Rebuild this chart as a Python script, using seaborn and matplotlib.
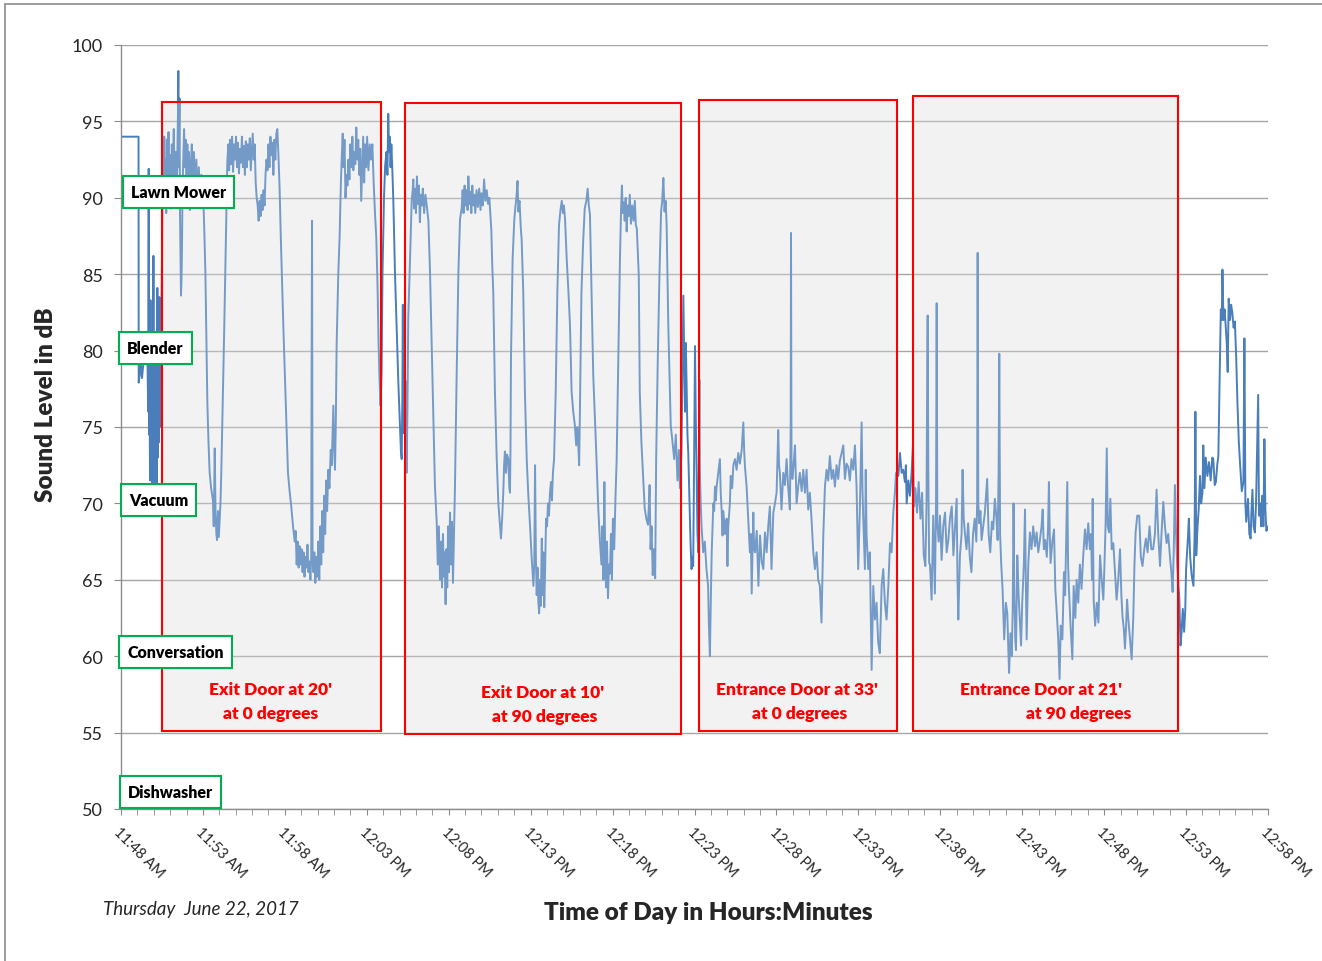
import matplotlib
matplotlib.use("Agg")
import matplotlib.pyplot as plt
from matplotlib.patches import Rectangle
import pandas as pd
import seaborn as sns

# -------------------------------------------------------------
# Data (minutes after 11:48 AM, sound level in dB)
# -------------------------------------------------------------
seg_start = [
    (0.0, 94.0), (1.07, 94.0), (1.08, 77.9), (1.15, 78.5), (1.2, 79.4), (1.28, 78.2),
    (1.4, 79.5), (1.55, 80.0), (1.62, 79.0), (1.66, 76.0), (1.69, 91.9), (1.71, 74.5),
    (1.74, 79.0), (1.77, 71.5), (1.80, 83.3), (1.83, 74.0), (1.86, 80.0), (1.89, 70.0),
    (1.92, 79.0), (1.95, 72.0), (1.98, 86.2), (2.01, 71.0), (2.04, 80.0), (2.07, 69.3),
    (2.10, 78.0), (2.13, 72.5), (2.16, 80.5), (2.19, 71.0), (2.22, 84.1), (2.25, 73.0),
    (2.28, 79.5), (2.31, 74.0), (2.34, 83.5), (2.37, 75.0), (2.40, 80.0), (2.43, 76.0),
    (2.46, 82.0), (2.50, 86.0),
]

seg_exit20 = [
    (2.56, 93.5), (2.60, 89.5), (2.64, 94.0), (2.68, 90.5), (2.72, 92.5), (2.76, 89.0),
    (2.80, 93.8), (2.85, 91.0), (2.90, 94.3), (2.95, 90.0), (3.0, 92.8), (3.05, 89.3),
    (3.10, 93.5), (3.15, 91.5), (3.22, 94.5), (3.28, 90.8), (3.35, 93.0), (3.42, 91.5),
    (3.47, 95.0), (3.50, 98.3), (3.53, 92.0), (3.57, 96.5), (3.60, 89.0), (3.63, 86.0),
    (3.66, 83.6), (3.69, 84.5), (3.72, 86.5), (3.75, 90.0), (3.80, 92.5), (3.85, 94.5),
    (3.90, 92.0), (3.95, 93.8), (4.0, 91.0), (4.05, 93.5), (4.10, 90.5), (4.15, 93.0),
    (4.20, 89.2), (4.26, 92.0), (4.32, 93.5), (4.38, 91.0), (4.45, 93.0), (4.52, 90.5),
    (4.60, 92.5), (4.68, 89.5), (4.75, 92.0), (4.82, 90.0), (4.90, 91.5), (5.0, 90.8),
    (5.08, 88.0), (5.15, 85.1), (5.22, 80.0), (5.27, 76.6), (5.34, 74.0), (5.41, 72.0),
    (5.50, 71.0), (5.61, 70.2), (5.66, 68.5), (5.72, 73.6), (5.77, 69.5), (5.82, 68.0),
    (5.86, 67.6), (5.92, 69.5), (5.97, 67.8), (6.02, 68.9), (6.07, 70.0), (6.12, 72.0),
    (6.18, 75.0), (6.25, 78.8), (6.31, 82.0), (6.37, 85.6), (6.43, 89.0), (6.49, 92.4),
    (6.55, 93.5), (6.60, 91.8), (6.66, 93.8), (6.72, 92.2), (6.78, 94.0), (6.84, 91.7),
    (6.90, 93.5), (6.96, 92.5), (7.02, 94.0), (7.08, 92.0), (7.14, 93.6), (7.20, 91.6),
    (7.26, 93.2), (7.32, 92.3), (7.38, 94.0), (7.44, 92.0), (7.50, 93.4), (7.56, 91.5),
    (7.62, 93.7), (7.68, 92.0), (7.74, 93.5), (7.80, 92.5), (7.86, 93.9), (7.92, 91.8),
    (7.98, 93.0), (8.04, 94.2), (8.10, 92.5), (8.16, 93.5), (8.22, 91.0), (8.28, 90.0),
    (8.34, 89.5), (8.40, 88.5), (8.46, 89.8), (8.52, 88.8), (8.58, 90.2), (8.64, 89.2),
    (8.70, 90.5), (8.76, 89.5), (8.82, 91.5), (8.88, 92.5), (8.94, 91.8), (9.00, 93.5),
    (9.06, 92.0), (9.12, 94.0), (9.18, 92.8), (9.24, 93.6), (9.30, 91.5), (9.36, 93.8),
    (9.42, 92.5), (9.48, 94.2), (9.54, 94.5), (9.60, 93.0), (9.68, 90.6), (9.75, 87.5),
    (9.83, 84.5), (9.91, 81.5), (9.99, 78.8), (10.09, 75.5), (10.19, 72.0), (10.29, 70.8),
    (10.39, 69.8), (10.50, 68.5), (10.6, 67.5), (10.66, 68.2), (10.72, 66.0), (10.78, 67.5),
    (10.84, 65.8), (10.90, 67.2), (10.96, 66.0), (11.02, 67.0), (11.08, 65.5), (11.14, 66.8),
    (11.20, 65.2), (11.26, 66.5), (11.32, 65.8), (11.38, 67.3), (11.44, 65.5), (11.50, 66.2),
    (11.56, 65.0), (11.61, 66.5), (11.63, 78.0), (11.66, 88.5), (11.69, 67.0), (11.74, 65.5),
    (11.80, 66.8), (11.86, 64.8), (11.92, 66.5), (11.98, 65.2), (12.04, 67.5), (12.10, 65.0),
    (12.16, 68.5), (12.22, 66.0), (12.28, 69.5), (12.34, 66.8), (12.40, 70.5), (12.46, 68.0),
    (12.52, 71.5), (12.58, 69.5), (12.65, 72.2), (12.72, 71.0), (12.80, 73.5), (12.86, 72.5),
    (12.92, 74.8), (12.96, 76.4), (13.01, 73.5), (13.06, 72.2), (13.11, 75.3), (13.16, 80.4),
    (13.26, 85.0), (13.34, 87.4), (13.42, 91.0), (13.47, 92.6), (13.53, 94.2), (13.58, 92.0),
    (13.64, 93.8), (13.70, 90.0), (13.76, 91.5), (13.82, 90.8), (13.88, 92.5), (13.94, 91.2),
    (14.00, 93.5), (14.06, 92.0), (14.12, 94.0), (14.18, 91.8), (14.24, 93.0), (14.30, 92.2),
    (14.36, 94.6), (14.42, 92.5), (14.48, 93.8), (14.54, 91.5), (14.60, 93.2), (14.66, 89.8),
    (14.72, 92.0), (14.78, 94.0), (14.84, 91.0), (14.90, 93.5), (14.96, 92.0), (15.02, 94.0),
    (15.10, 91.8), (15.18, 93.5), (15.26, 92.5), (15.34, 93.5), (15.42, 91.0), (15.50, 89.0),
    (15.58, 87.4), (15.66, 84.0), (15.72, 80.4), (15.78, 78.0), (15.84, 76.4),
]

seg_gap1 = [
    (15.90, 78.5), (15.96, 85.1), (16.05, 90.0), (16.12, 92.1), (16.20, 93.0), (16.26, 91.5),
    (16.31, 95.5), (16.36, 93.0), (16.40, 94.0), (16.45, 92.0), (16.50, 93.5), (16.56, 91.8),
    (16.62, 89.8), (16.68, 87.0), (16.72, 85.1), (16.82, 81.6), (16.92, 78.1), (17.03, 75.0),
    (17.08, 73.5), (17.13, 72.9), (17.17, 77.0), (17.20, 83.0), (17.23, 74.6), (17.27, 78.0),
    (17.30, 80.9), (17.34, 74.0), (17.38, 78.0),
]

seg_exit10 = [
    (17.43, 72.0), (17.48, 76.0), (17.53, 82.1), (17.64, 86.0), (17.74, 89.8), (17.80, 90.5),
    (17.84, 91.2), (17.88, 89.3), (17.94, 90.6), (18.00, 89.0), (18.06, 91.4), (18.12, 89.6),
    (18.18, 90.8), (18.24, 88.4), (18.30, 90.2), (18.36, 89.5), (18.42, 90.6), (18.50, 89.0),
    (18.58, 90.2), (18.66, 89.5), (18.76, 88.5), (18.86, 85.1), (18.96, 80.4), (19.06, 75.7),
    (19.16, 71.1), (19.27, 68.7), (19.33, 66.0), (19.40, 68.5), (19.47, 65.0), (19.53, 67.5),
    (19.59, 64.5), (19.65, 68.0), (19.70, 65.2), (19.75, 66.8), (19.81, 63.4), (19.86, 67.0),
    (19.91, 64.5), (19.96, 68.5), (20.02, 65.5), (20.08, 69.4), (20.14, 66.0), (20.20, 68.8),
    (20.26, 64.8), (20.32, 68.0), (20.38, 71.0), (20.48, 78.1), (20.59, 85.1), (20.69, 88.6),
    (20.79, 89.3), (20.85, 90.5), (20.91, 89.0), (20.97, 90.8), (21.03, 89.5), (21.09, 90.5),
    (21.15, 89.2), (21.20, 91.4), (21.26, 89.6), (21.32, 90.4), (21.38, 89.0), (21.44, 90.8),
    (21.50, 89.5), (21.56, 90.2), (21.62, 89.0), (21.70, 90.5), (21.78, 89.4), (21.86, 90.6),
    (21.94, 89.2), (22.00, 90.3), (22.08, 89.5), (22.16, 91.2), (22.24, 89.8), (22.32, 90.5),
    (22.40, 89.6), (22.48, 90.0), (22.52, 89.3), (22.60, 87.9), (22.66, 85.5), (22.72, 83.8),
    (22.82, 77.3), (22.93, 72.9), (23.03, 70.0), (23.13, 68.6), (23.19, 67.7), (23.26, 69.0),
    (23.33, 70.7), (23.38, 72.5), (23.43, 73.4), (23.50, 72.0), (23.56, 73.2), (23.64, 72.9),
    (23.70, 71.0), (23.74, 70.7), (23.77, 73.6), (23.80, 79.5), (23.90, 86.0), (24.00, 88.5),
    (24.06, 89.3), (24.13, 90.0), (24.20, 91.1), (24.25, 89.1), (24.32, 89.8), (24.40, 88.0),
    (24.45, 87.3), (24.55, 83.8), (24.65, 77.3), (24.76, 72.9), (24.86, 70.5), (24.96, 68.6),
    (25.06, 66.5), (25.17, 64.6), (25.22, 66.0), (25.27, 72.5), (25.32, 66.5), (25.37, 64.0),
    (25.42, 65.8), (25.47, 63.5), (25.52, 62.8), (25.57, 65.0), (25.62, 63.3), (25.68, 67.7),
    (25.73, 64.0), (25.78, 66.8), (25.83, 63.2), (25.88, 65.5), (25.94, 69.0), (26.00, 68.5),
    (26.06, 70.0), (26.12, 69.2), (26.18, 70.7), (26.24, 71.4), (26.30, 70.2), (26.36, 72.0),
    (26.43, 72.9), (26.53, 77.3), (26.63, 83.8), (26.73, 88.2), (26.82, 89.2), (26.90, 89.8),
    (26.97, 89.0), (27.03, 89.5), (27.10, 88.6), (27.20, 86.0), (27.30, 84.0), (27.40, 81.7),
    (27.50, 77.3), (27.60, 76.0), (27.70, 75.1), (27.78, 73.8), (27.85, 75.0), (27.90, 74.0),
    (27.96, 72.5), (28.00, 75.5), (28.10, 83.8), (28.20, 87.0), (28.30, 89.3), (28.40, 89.8),
    (28.48, 90.6), (28.55, 89.5), (28.62, 88.9), (28.72, 83.8), (28.82, 78.4), (28.98, 74.0),
    (29.13, 69.6), (29.23, 67.5), (29.32, 66.0), (29.38, 68.5), (29.44, 65.0), (29.50, 71.4),
    (29.55, 66.5), (29.60, 64.5), (29.66, 67.5), (29.72, 63.8), (29.78, 66.0), (29.84, 65.4),
    (29.90, 68.0), (29.96, 65.0), (30.02, 69.0), (30.10, 67.0), (30.18, 70.5), (30.25, 72.9),
    (30.35, 79.5), (30.45, 86.0), (30.52, 89.3), (30.57, 90.8), (30.62, 89.0), (30.68, 89.7),
    (30.74, 88.5), (30.80, 90.0), (30.86, 87.8), (30.92, 89.5), (30.98, 88.8), (31.05, 90.2),
    (31.12, 88.3), (31.20, 89.5), (31.28, 88.5), (31.36, 89.8), (31.42, 88.2), (31.48, 88.0),
    (31.60, 84.9), (31.66, 77.3), (31.76, 74.0), (31.86, 71.8), (31.96, 69.7), (32.06, 69.0),
    (32.16, 68.6), (32.22, 70.0), (32.26, 71.2), (32.32, 67.0), (32.38, 68.5), (32.45, 65.3),
    (32.52, 67.0), (32.60, 65.1), (32.66, 72.9), (32.76, 79.5), (32.86, 84.9), (32.96, 89.1),
    (33.03, 89.8), (33.10, 91.3), (33.17, 89.1), (33.24, 89.8), (33.30, 88.2), (33.40, 81.7),
    (33.55, 75.1), (33.66, 74.0), (33.76, 72.9), (33.86, 74.5), (33.96, 71.5), (34.05, 73.5),
    (34.11, 71.0),
]

seg_gap2 = [
    (34.20, 73.3), (34.26, 78.0), (34.32, 83.6), (34.37, 79.9), (34.42, 76.0), (34.47, 80.5),
    (34.52, 77.7), (34.57, 74.5), (34.62, 73.3), (34.67, 71.0), (34.72, 69.0), (34.77, 67.0),
    (34.82, 65.7), (34.87, 66.5), (34.92, 65.9), (34.97, 72.0), (35.03, 80.3), (35.08, 75.5),
    (35.13, 72.0), (35.18, 68.0), (35.23, 66.8),
]

seg_entr33 = [
    (35.30, 78.1), (35.33, 72.0), (35.38, 70.0), (35.43, 68.5), (35.53, 66.8), (35.63, 67.5),
    (35.73, 65.7), (35.83, 64.6), (35.88, 62.0), (35.94, 60.0), (36.00, 64.0), (36.05, 66.8),
    (36.10, 68.5), (36.15, 70.0), (36.20, 69.5), (36.25, 71.1), (36.30, 70.2), (36.35, 71.1),
    (36.45, 72.0), (36.55, 72.9), (36.60, 70.7), (36.66, 69.5), (36.71, 67.9), (36.76, 69.5),
    (36.86, 68.0), (36.96, 69.0), (37.01, 65.9), (37.06, 68.5), (37.16, 70.0), (37.21, 71.8),
    (37.30, 71.0), (37.37, 72.5), (37.47, 72.9), (37.57, 72.2), (37.67, 73.3), (37.77, 72.6),
    (37.88, 73.5), (37.98, 75.3), (38.03, 73.5), (38.08, 72.4), (38.18, 71.1), (38.28, 69.0),
    (38.38, 66.8), (38.44, 68.0), (38.49, 64.1), (38.59, 69.4), (38.64, 67.0), (38.70, 66.8),
    (38.80, 68.2), (38.90, 64.6), (39.00, 67.9), (39.10, 66.2), (39.20, 65.7), (39.30, 68.1),
    (39.40, 66.8), (39.50, 68.5), (39.60, 69.8), (39.70, 65.7), (39.81, 69.4), (39.91, 70.0),
    (40.01, 70.7), (40.11, 74.8), (40.16, 72.5), (40.21, 72.0), (40.31, 69.6), (40.42, 72.0),
    (40.52, 71.2), (40.62, 72.9), (40.72, 71.0), (40.82, 69.6), (40.87, 75.0), (40.89, 87.7),
    (40.92, 73.0), (40.97, 71.6), (41.05, 72.5), (41.13, 73.8), (41.23, 70.0), (41.33, 71.1),
    (41.43, 72.0), (41.54, 70.8), (41.64, 72.2), (41.74, 70.7), (41.84, 72.2), (41.94, 69.6),
    (42.04, 70.7), (42.14, 69.0), (42.25, 66.8), (42.35, 65.7), (42.45, 66.8), (42.55, 65.0),
    (42.65, 64.6), (42.75, 62.2), (42.86, 67.9), (42.96, 71.1), (43.06, 72.2), (43.16, 71.5),
    (43.26, 73.1), (43.37, 71.6), (43.47, 72.2), (43.57, 71.1), (43.67, 72.5), (43.77, 71.6),
    (43.87, 72.8), (43.98, 73.3), (44.08, 73.8), (44.18, 71.6), (44.28, 72.6), (44.38, 72.4),
    (44.48, 71.5), (44.58, 72.9), (44.69, 72.2), (44.79, 73.8), (44.89, 71.1), (44.99, 65.7),
    (45.10, 70.0), (45.20, 75.3), (45.25, 71.0), (45.30, 69.0), (45.40, 65.7), (45.45, 72.2),
    (45.50, 68.0), (45.60, 65.7), (45.70, 66.8), (45.81, 59.1), (45.91, 64.6), (46.01, 62.4),
    (46.11, 63.5), (46.21, 60.9), (46.31, 60.2), (46.42, 64.6), (46.52, 65.7), (46.62, 63.5),
    (46.72, 62.4), (46.83, 64.6), (46.93, 67.4), (47.03, 66.8), (47.13, 69.4), (47.23, 70.7),
    (47.30, 72.0),
]

seg_gap3 = [
    (47.44, 71.8), (47.54, 73.3), (47.64, 72.0), (47.74, 72.2), (47.84, 71.4), (47.90, 72.5),
    (47.95, 70.0), (48.05, 71.5), (48.15, 70.5), (48.25, 72.0), (48.33, 73.8),
]

seg_entr21 = [
    (48.40, 69.8), (48.48, 71.0), (48.58, 69.4), (48.68, 71.4), (48.79, 69.0), (48.89, 70.7),
    (48.99, 66.6), (49.09, 65.9), (49.16, 70.0), (49.20, 78.1), (49.23, 82.3), (49.27, 72.0),
    (49.32, 66.1), (49.37, 66.0), (49.47, 63.7), (49.57, 69.2), (49.67, 64.1), (49.74, 70.0),
    (49.78, 83.1), (49.82, 68.7), (49.90, 67.5), (49.98, 69.2), (50.08, 66.3), (50.18, 68.5),
    (50.29, 69.4), (50.39, 66.8), (50.49, 67.6), (50.59, 69.0), (50.70, 69.8), (50.80, 66.6),
    (50.90, 68.5), (51.00, 70.3), (51.05, 65.0), (51.10, 62.4), (51.20, 66.6), (51.30, 68.0),
    (51.36, 72.2), (51.43, 69.0), (51.50, 68.1), (51.60, 67.0), (51.70, 68.7), (51.80, 66.5),
    (51.90, 65.5), (52.00, 68.0), (52.10, 69.0), (52.20, 67.5), (52.25, 70.0), (52.28, 86.4),
    (52.32, 70.0), (52.38, 68.7), (52.45, 69.5), (52.52, 67.6), (52.62, 68.5), (52.72, 69.4),
    (52.86, 71.6), (52.95, 68.0), (53.05, 66.8), (53.15, 68.8), (53.23, 68.3), (53.33, 70.3),
    (53.43, 69.0), (53.50, 67.6), (53.56, 72.0), (53.60, 79.8), (53.65, 68.0), (53.72, 66.0),
    (53.80, 64.4), (53.90, 61.1), (54.00, 63.5), (54.09, 62.8), (54.15, 60.5), (54.20, 58.9),
    (54.28, 61.5), (54.36, 60.0), (54.42, 63.0), (54.47, 70.0), (54.52, 64.0), (54.58, 61.0),
    (54.62, 60.4), (54.70, 66.6), (54.78, 64.0), (54.86, 62.2), (54.93, 60.7), (55.00, 63.5),
    (55.10, 66.0), (55.17, 69.6), (55.22, 65.0), (55.27, 61.1), (55.37, 66.0), (55.47, 68.1),
    (55.57, 67.0), (55.67, 68.5), (55.78, 67.2), (55.88, 68.1), (55.98, 66.8), (56.08, 67.6),
    (56.18, 68.5), (56.25, 69.6), (56.32, 67.0), (56.40, 67.6), (56.50, 66.5), (56.58, 68.5),
    (56.63, 71.4), (56.68, 68.0), (56.73, 66.1), (56.84, 67.5), (56.94, 68.3), (57.02, 64.4),
    (57.10, 63.0), (57.20, 61.1), (57.28, 58.5), (57.35, 62.0), (57.45, 61.1), (57.55, 65.5),
    (57.62, 64.0), (57.67, 67.0), (57.75, 71.4), (57.80, 66.0), (57.85, 64.4), (57.95, 62.0),
    (58.06, 59.8), (58.14, 64.6), (58.24, 62.5), (58.32, 65.0), (58.42, 63.5), (58.52, 66.0),
    (58.62, 64.4), (58.72, 66.5), (58.83, 68.3), (58.93, 67.0), (59.03, 68.7), (59.13, 67.0),
    (59.20, 68.0), (59.26, 65.0), (59.30, 70.3), (59.36, 63.7), (59.45, 62.0), (59.55, 63.5),
    (59.65, 62.2), (59.75, 66.6), (59.85, 65.0), (59.95, 63.7), (60.02, 66.0), (60.09, 68.7),
    (60.16, 73.6), (60.22, 68.5), (60.30, 68.1), (60.38, 70.3), (60.46, 67.0), (60.56, 67.4),
    (60.66, 65.5), (60.76, 63.7), (60.86, 65.0), (60.97, 67.0), (61.05, 64.0), (61.12, 62.6),
    (61.20, 61.8), (61.27, 60.5), (61.34, 62.0), (61.40, 63.7), (61.47, 62.5), (61.54, 61.6),
    (61.62, 60.5), (61.68, 59.8), (61.74, 61.5), (61.78, 62.6), (61.85, 66.0), (61.92, 68.1),
    (62.02, 69.2), (62.14, 69.2), (62.24, 66.5), (62.34, 65.9), (62.45, 67.0), (62.55, 67.7),
    (62.65, 66.8), (62.77, 68.5), (62.88, 67.0), (62.99, 67.0), (63.10, 68.0), (63.20, 70.9),
    (63.30, 68.0), (63.41, 65.9), (63.50, 68.0), (63.61, 70.1), (63.71, 68.5), (63.81, 67.4),
    (63.91, 68.0), (64.01, 66.6), (64.10, 65.5), (64.18, 64.2), (64.25, 67.0), (64.32, 71.2),
    (64.39, 68.0), (64.46, 65.9),
]

seg_end = [
    (64.59, 63.7), (64.66, 60.7), (64.72, 61.5), (64.80, 63.1), (64.88, 61.6), (64.95, 63.0),
    (65.00, 65.7), (65.10, 67.5), (65.17, 69.0), (65.25, 66.5), (65.34, 65.3), (65.45, 64.6),
    (65.52, 68.0), (65.57, 76.0), (65.62, 66.6), (65.70, 68.5), (65.77, 69.6), (65.85, 71.8),
    (65.92, 70.0), (66.00, 70.7), (66.05, 73.8), (66.12, 71.0), (66.20, 73.0), (66.30, 71.8),
    (66.40, 72.7), (66.50, 71.5), (66.60, 73.0), (66.66, 72.9), (66.75, 71.2), (66.82, 71.4),
    (66.90, 72.5), (66.97, 73.1), (67.05, 78.4), (67.12, 82.7), (67.18, 82.0), (67.22, 85.3),
    (67.28, 82.0), (67.35, 82.7), (67.42, 81.6), (67.48, 80.5), (67.54, 78.6), (67.60, 83.4),
    (67.68, 82.0), (67.75, 83.0), (67.82, 82.5), (67.90, 81.5), (67.98, 81.9), (68.06, 79.5),
    (68.14, 76.4), (68.22, 74.0), (68.30, 72.5), (68.40, 70.8), (68.50, 71.4), (68.56, 80.8),
    (68.62, 70.0), (68.67, 68.8), (68.72, 69.5), (68.78, 70.3), (68.86, 68.0), (68.94, 67.7),
    (68.98, 69.2), (69.05, 70.9), (69.12, 68.5), (69.20, 68.1), (69.27, 70.0), (69.40, 77.1),
    (69.45, 69.2), (69.52, 70.0), (69.58, 68.5), (69.64, 70.5), (69.72, 68.5), (69.78, 74.2),
    (69.84, 69.6), (69.90, 68.2), (70.00, 68.5),
]

tick_minutes = [0, 5, 10, 15, 20, 25, 30, 35, 40, 45, 50, 55, 60, 65, 70]
tick_labels = ["11:48 AM", "11:53 AM", "11:58 AM", "12:03 PM", "12:08 PM", "12:13 PM",
               "12:18 PM", "12:23 PM", "12:28 PM", "12:33 PM", "12:38 PM", "12:43 PM",
               "12:48 PM", "12:53 PM", "12:58 PM"]

# reference sound levels (green boxes)
ref_names = ["Lawn Mower", "Blender", "Vacuum", "Conversation", "Dishwasher"]
ref_levels = [90.4, 80.2, 70.25, 60.27, 51.1]
ref_x = [0.62, 0.37, 0.49, 0.37, 0.43]

# test periods (red boxes): start, end, bottom, top in minutes / dB
test_spans = [(2.53, 15.87, 55.1, 96.27), (17.36, 34.18, 54.9, 96.2),
              (35.27, 47.36, 55.1, 96.4), (48.36, 64.51, 55.1, 96.63)]
test_text = [
    [("Exit Door at 20'", 9.15, 57.85), ("at 0 degrees", 9.15, 56.28)],
    [("Exit Door at 10'", 25.75, 57.66), ("at 90 degrees", 25.85, 56.1)],
    [("Entrance Door at 33'", 41.25, 57.85), ("at 0 degrees", 41.44, 56.28)],
    [("Entrance Door at 21'", 56.15, 57.85), ("at 90 degrees", 58.47, 56.28)],
]

segments = [seg_start, seg_exit20, seg_gap1, seg_exit10, seg_gap2,
            seg_entr33, seg_gap3, seg_entr21, seg_end]
df = pd.DataFrame([p for s in segments for p in s], columns=["minute", "db"])

# -------------------------------------------------------------
# Plot
# -------------------------------------------------------------
sns.set_style("white")
plt.rcParams['font.family'] = ['Lato', 'DejaVu Sans']

fig = plt.figure(figsize=(13.22, 9.62), dpi=100)
ax = fig.add_axes([121 / 1322, 1 - 810 / 962, 1147 / 1322, 764 / 962])

grey = "#8c8c8c"
line_blue = "#4a7ebb"

# light box background (under the trace)
for x0, x1, y0, y1 in test_spans:
    ax.add_patch(Rectangle((x0, y0), x1 - x0, y1 - y0, facecolor="#f2f2f2",
                           edgecolor="none", zorder=0.3))

sns.lineplot(data=df, x="minute", y="db", sort=False, estimator=None,
             color=line_blue, linewidth=1.4, ax=ax, zorder=2)

# translucent cover + red outline on top of the trace
for x0, x1, y0, y1 in test_spans:
    ax.add_patch(Rectangle((x0, y0), x1 - x0, y1 - y0, facecolor="#f2f2f2",
                           alpha=0.25, edgecolor="none", zorder=3))
    ax.add_patch(Rectangle((x0, y0), x1 - x0, y1 - y0, facecolor="none",
                           edgecolor="#ff0000", linewidth=1.5, zorder=3.5))

for lines in test_text:
    for txt, tx, ty in lines:
        ax.text(tx, ty, txt, color="#ff0000", fontsize=12.5, fontweight="heavy",
                ha="center", va="center", zorder=4)

for name, lvl, tx in zip(ref_names, ref_levels, ref_x):
    ax.text(tx, lvl, name, fontsize=11.5, fontweight="heavy", color="black",
            ha="left", va="center", zorder=5,
            bbox=dict(boxstyle="square,pad=0.5", facecolor="white",
                      edgecolor="#00b050", linewidth=1.5))

ax.set_xlim(0, 70)
ax.set_ylim(50, 100)
ax.set_yticks(range(50, 101, 5))
ax.set_xticks(tick_minutes)
ax.set_xticks(range(0, 71), minor=True)
ax.set_xticklabels(tick_labels, rotation=-45, ha="left", va="top",
                   rotation_mode="anchor", fontsize=10.5)
ax.tick_params(axis="y", labelsize=13, length=5, color=grey, left=True,
               labelcolor="#262626", pad=8)
ax.tick_params(axis="x", which="both", length=4, color=grey, bottom=True,
               direction="out", pad=7)
ax.grid(axis="y", color="#a6a6a6", linewidth=1)
ax.set_axisbelow(True)

for side in ["top", "right"]:
    ax.spines[side].set_visible(False)
for side in ["left", "bottom"]:
    ax.spines[side].set_color(grey)
    ax.spines[side].set_linewidth(1)

ax.set_ylabel("Sound Level in dB", fontsize=17.5, fontweight="heavy")
ax.yaxis.set_label_coords(-0.056, 0.53)
ax.set_xlabel("Time of Day in Hours:Minutes", fontsize=17.5, fontweight="heavy")
ax.xaxis.set_label_coords(0.512, -0.12)

fig.text(103 / 1322, 1 - 910 / 962, "Thursday  June 22, 2017", fontsize=13.5,
         style="italic", ha="left", va="center")

# outer chart border
fig.patches.append(Rectangle((5 / 1322, -0.05), 1.2, 1.05 - 5 / 962,
                             transform=fig.transFigure, facecolor="none",
                             edgecolor=grey, linewidth=1.2))

plt.savefig("out.png", dpi=100)
